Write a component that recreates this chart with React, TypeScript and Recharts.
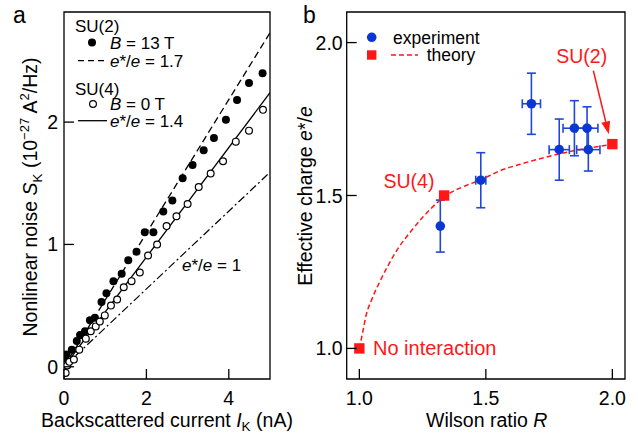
import React from 'react'
import {
  ComposedChart, XAxis, YAxis, Line, Scatter, ErrorBar,
  ReferenceArea, ReferenceLine, ReferenceDot,
} from 'recharts'

const FONT = '"Liberation Sans", Arial, Helvetica, sans-serif'
const BLUE = '#0a37d2'
const BLUE_BAR = '#2047da'
const RED = '#ff1717'

// panel a: SU(2), B = 13 T (filled)
const suTwoCurrent = [0.02, 0.06, 0.19, 0.31, 0.39, 0.51, 0.63, 0.75, 0.91, 1.03, 1.2, 1.4, 1.56, 1.76, 1.96, 2.17, 2.41, 2.63, 2.88, 3.12, 3.39, 3.64, 3.93, 4.2, 4.49, 4.82]
const suTwoNoise = [0.07, 0.1, 0.14, 0.21, 0.26, 0.29, 0.38, 0.4, 0.53, 0.6, 0.7, 0.76, 0.87, 0.94, 1.1, 1.1, 1.27, 1.36, 1.54, 1.65, 1.77, 1.87, 2.02, 2.18, 2.32, 2.4]
// panel a: SU(4), B = 0 T (open)
const suFourCurrent = [0.04, 0.08, 0.13, 0.24, 0.37, 0.53, 0.65, 0.77, 0.87, 0.99, 1.14, 1.29, 1.45, 1.64, 1.84, 2.04, 2.26, 2.49, 2.73, 3.0, 3.27, 3.56, 3.86, 4.17, 4.49, 4.83]
const suFourNoise = [-0.05, 0.01, 0.04, 0.06, 0.14, 0.23, 0.29, 0.33, 0.37, 0.42, 0.5, 0.55, 0.65, 0.7, 0.77, 0.91, 1.0, 1.15, 1.23, 1.33, 1.47, 1.58, 1.68, 1.84, 1.93, 2.1]
// fits e*/e = 1.7, 1.4, 1
const fitCurrent = [0, 5]
const fit17 = [0, 2.73]
const fit14 = [0, 2.24]
const fit10 = [0, 1.59]
const ticksAX = [0, 2, 4]
const ticksAY = [0, 1, 2]

// panel b
const wilsonR = [1.32, 1.48, 1.68, 1.79, 1.85, 1.9, 1.905]
const charge = [1.4, 1.55, 1.8, 1.65, 1.72, 1.72, 1.65]
const wilsonErr = [0, 0.02, 0.036, 0.04, 0.045, 0.043, 0.046]
const chargeErr = [0.085, 0.09, 0.1, 0.1, 0.09, 0.07, 0.07]
const theoryR = [1.0, 1.335, 2.0]
const theoryCharge = [1.0, 1.5, 1.668]
const curveR = [1.0, 1.013, 1.026, 1.049, 1.079, 1.112, 1.15, 1.198, 1.253, 1.312, 1.335, 1.411, 1.477, 1.556, 1.635, 1.74, 1.846, 1.951, 2.0]
const curveCharge = [1.0, 1.052, 1.106, 1.16, 1.215, 1.269, 1.323, 1.377, 1.431, 1.48, 1.496, 1.529, 1.55, 1.581, 1.602, 1.626, 1.646, 1.661, 1.668]
const ticksB = [1.0, 1.5, 2.0]

const pts = (xs: number[], ys: number[]) => xs.map((x, i) => ({ x, y: ys[i] }))

const suTwo = pts(suTwoCurrent, suTwoNoise)
const suFour = pts(suFourCurrent, suFourNoise)
const line17 = pts(fitCurrent, fit17)
const line14 = pts(fitCurrent, fit14)
const line10 = pts(fitCurrent, fit10)
const experiment = wilsonR.map((x, i) => ({ x, y: charge[i], ex: wilsonErr[i], ey: chargeErr[i] }))
const theory = pts(theoryR, theoryCharge)
const curve = pts(curveR, curveCharge)

// axes get 1px of room, ticks are drawn inward by hand
const makeXTick = (digits: number) => (p: any) => (
  <g>
    <line x1={p.x} y1={p.y} x2={p.x} y2={p.y - 10} stroke="#000" strokeWidth={1.3} />
    <text x={p.x} y={p.y + 26} textAnchor="middle" fontSize={19.5} fontFamily={FONT} fill="#000">
      {Number(p.payload.value).toFixed(digits)}
    </text>
  </g>
)

const makeYTick = (digits: number, gap: number) => (p: any) => (
  <g>
    <line x1={p.x} y1={p.y} x2={p.x + 10} y2={p.y} stroke="#000" strokeWidth={1.3} />
    <text x={p.x - gap} y={p.y + 7} textAnchor="end" fontSize={19.5} fontFamily={FONT} fill="#000">
      {Number(p.payload.value).toFixed(digits)}
    </text>
  </g>
)

const filledDot = (p: any) => <circle cx={p.cx} cy={p.cy} r={4} fill="#000" />
const openDot = (p: any) => <circle cx={p.cx} cy={p.cy} r={3.4} fill="#fff" stroke="#000" strokeWidth={1.2} />
const blueDot = (p: any) => <circle cx={p.cx} cy={p.cy} r={4.8} fill={BLUE} />
const redSquare = (p: any) => <rect x={p.cx - 5.2} y={p.cy - 5.2} width={10.4} height={10.4} fill={RED} />

const arrowShape = (p: any) => {
  const { x1, y1, x2, y2 } = p
  const dx = x2 - x1
  const dy = y2 - y1
  const len = Math.hypot(dx, dy)
  const ux = dx / len
  const uy = dy / len
  const hl = 13
  const hw = 4.5
  const bx = x2 - ux * hl
  const by = y2 - uy * hl
  return (
    <g>
      <line x1={x1} y1={y1} x2={bx} y2={by} stroke={RED} strokeWidth={1.5} />
      <polygon
        points={`${x2},${y2} ${bx - uy * hw},${by + ux * hw} ${bx + uy * hw},${by - ux * hw}`}
        fill={RED}
      />
    </g>
  )
}

const redLabel = (text: string, anchor: 'start' | 'middle', size: number) => (p: any) => (
  <text x={p.cx} y={p.cy + 7} textAnchor={anchor} fontSize={size} fontFamily={FONT} fill={RED}>
    {text}
  </text>
)

function PanelA() {
  return (
    <ComposedChart width={638} height={434} margin={{ top: 12, right: 368, bottom: 54, left: 63 }}>
      <XAxis
        type="number" dataKey="x" domain={[0, 5]} ticks={ticksAX} interval={0}
        height={1} axisLine={false} tickLine={false} tickSize={0} tickMargin={0}
        tick={makeXTick(0)} allowDataOverflow
      />
      <YAxis
        type="number" dataKey="y" domain={[-0.1, 2.9]} ticks={ticksAY} interval={0}
        width={1} axisLine={false} tickLine={false} tickSize={0} tickMargin={0}
        tick={makeYTick(0, 6)} allowDataOverflow
      />
      <Line data={line17} dataKey="y" stroke="#000" strokeWidth={1.3} strokeDasharray="7 4" dot={false} isAnimationActive={false} />
      <Line data={line14} dataKey="y" stroke="#000" strokeWidth={1.3} dot={false} isAnimationActive={false} />
      <Line data={line10} dataKey="y" stroke="#000" strokeWidth={1.2} strokeDasharray="8 3 2 3" dot={false} isAnimationActive={false} />
      <Scatter data={suTwo} dataKey="y" shape={filledDot} isAnimationActive={false} />
      <Scatter data={suFour} dataKey="y" shape={openDot} isAnimationActive={false} />
      <ReferenceArea x1={0} x2={5} y1={-0.1} y2={2.9} fill="none" stroke="#000" strokeWidth={1.3} fillOpacity={0} />
    </ComposedChart>
  )
}

function PanelB() {
  return (
    <ComposedChart width={638} height={434} margin={{ top: 12, right: 13, bottom: 54, left: 345.7 }}>
      <XAxis
        type="number" dataKey="x" domain={[0.95, 2.05]} ticks={ticksB} interval={0}
        height={1} axisLine={false} tickLine={false} tickSize={0} tickMargin={0}
        tick={makeXTick(1)} allowDataOverflow
      />
      <YAxis
        type="number" dataKey="y" domain={[0.9, 2.1]} ticks={ticksB} interval={0}
        width={1} axisLine={false} tickLine={false} tickSize={0} tickMargin={0}
        tick={makeYTick(1, 4)} allowDataOverflow
      />
      <Line data={curve} dataKey="y" type="monotone" stroke={RED} strokeWidth={1.5} strokeDasharray="5 3" dot={false} isAnimationActive={false} />
      <Scatter data={experiment} dataKey="y" shape={blueDot} isAnimationActive={false}>
        <ErrorBar dataKey="ey" direction="y" width={4.5} stroke={BLUE_BAR} strokeWidth={1.6} />
        <ErrorBar dataKey="ex" direction="x" width={4.5} stroke={BLUE_BAR} strokeWidth={1.6} />
      </Scatter>
      <Scatter data={theory} dataKey="y" shape={redSquare} isAnimationActive={false} />
      <ReferenceLine segment={[{ x: 1.925, y: 1.908 }, { x: 1.986, y: 1.7 }]} shape={arrowShape} />
      <ReferenceDot x={1.879} y={1.955} r={0} shape={redLabel('SU(2)', 'middle', 19.5)} />
      <ReferenceDot x={1.196} y={1.547} r={0} shape={redLabel('SU(4)', 'middle', 19.5)} />
      <ReferenceDot x={1.054} y={1.0} r={0} shape={redLabel('No interaction', 'start', 20)} />
      <ReferenceArea x1={0.95} x2={2.05} y1={0.9} y2={2.1} fill="none" stroke="#000" strokeWidth={1.3} fillOpacity={0} />
    </ComposedChart>
  )
}

function Overlay() {
  const t = { fontFamily: FONT, fill: '#000' }
  return (
    <svg width={638} height={434} style={{ position: 'absolute', left: 0, top: 0, pointerEvents: 'none' }}>
      <text x={13} y={23} fontSize={23} {...t}>a</text>
      <text x={303} y={23} fontSize={23} {...t}>b</text>

      {/* panel a legend */}
      <text x={75} y={32} fontSize={17} {...t}>SU(2)</text>
      <circle cx={92} cy={42.5} r={4} fill="#000" />
      <text x={110} y={48.5} fontSize={17} {...t}><tspan fontStyle="italic">B</tspan> = 13 T</text>
      <line x1={78} y1={60.7} x2={107} y2={60.7} stroke="#000" strokeWidth={1.3} strokeDasharray="6 4" />
      <text x={110} y={66.5} fontSize={17} {...t}><tspan fontStyle="italic">e</tspan>*/<tspan fontStyle="italic">e</tspan> = 1.7</text>
      <text x={75} y={95} fontSize={17} {...t}>SU(4)</text>
      <circle cx={93} cy={104} r={3.4} fill="#fff" stroke="#000" strokeWidth={1.2} />
      <text x={110} y={110} fontSize={17} {...t}><tspan fontStyle="italic">B</tspan> = 0 T</text>
      <line x1={78} y1={120.7} x2={107} y2={120.7} stroke="#000" strokeWidth={1.3} />
      <text x={110} y={127} fontSize={17} {...t}><tspan fontStyle="italic">e</tspan>*/<tspan fontStyle="italic">e</tspan> = 1.4</text>
      <text x={182} y={271} fontSize={17} {...t}><tspan fontStyle="italic">e</tspan>*/<tspan fontStyle="italic">e</tspan> = 1</text>

      {/* panel a axis titles */}
      <text x={167} y={427} fontSize={19.5} textAnchor="middle" {...t}>
        Backscattered current <tspan fontStyle="italic">I</tspan><tspan fontSize={13.5} dy={4}>K</tspan><tspan dy={-4}> (nA)</tspan>
      </text>
      <text transform="translate(37,197) rotate(-90)" fontSize={19.5} textAnchor="middle" {...t}>
        Nonlinear noise <tspan fontStyle="italic">S</tspan><tspan fontSize={13.5} dy={5}>K</tspan>
        <tspan dy={-5}> (10</tspan><tspan fontSize={13} dy={-8}>−27</tspan><tspan dy={8}> A</tspan>
        <tspan fontSize={13} dy={-8}>2</tspan><tspan dy={8}>/Hz)</tspan>
      </text>

      {/* panel b legend */}
      <circle cx={371.7} cy={37.3} r={4.8} fill={BLUE} />
      <text x={393} y={43.5} fontSize={17.5} {...t}>experiment</text>
      <rect x={367} y={50.3} width={9.4} height={9.4} fill={RED} />
      <line x1={391} y1={55} x2={418} y2={55} stroke={RED} strokeWidth={1.5} strokeDasharray="5 3" />
      <text x={426.7} y={61} fontSize={17.5} {...t}>theory</text>

      {/* panel b axis titles */}
      <text x={486.7} y={427} fontSize={19.5} textAnchor="middle" {...t}>
        Wilson ratio <tspan fontStyle="italic">R</tspan>
      </text>
      <text transform="translate(311.5,196) rotate(-90)" fontSize={19.5} textAnchor="middle" {...t}>
        Effective charge <tspan fontStyle="italic">e</tspan>*/<tspan fontStyle="italic">e</tspan>
      </text>
    </svg>
  )
}

export default function App() {
  return (
    <div style={{ position: 'fixed', left: 0, top: 0, width: 638, height: 434, background: '#fff', overflow: 'hidden' }}>
      <div style={{ position: 'absolute', left: 0, top: 0 }}>
        <PanelA />
      </div>
      <div style={{ position: 'absolute', left: 0, top: 0 }}>
        <PanelB />
      </div>
      <Overlay />
    </div>
  )
}
